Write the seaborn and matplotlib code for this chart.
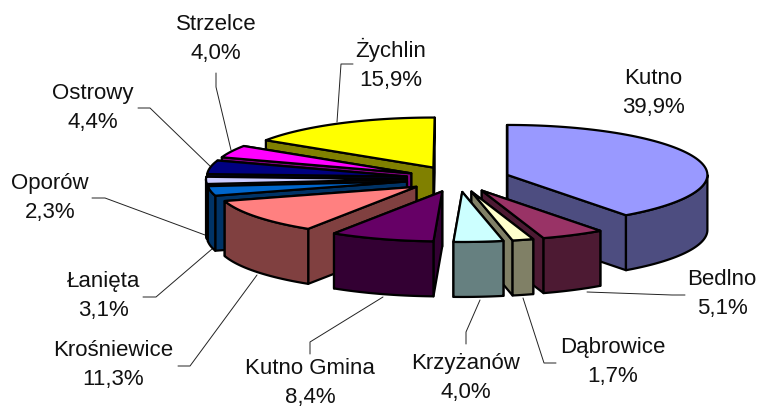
import numpy as np
import pandas as pd
import seaborn as sns
import matplotlib
matplotlib.use("Agg")
import matplotlib.pyplot as plt
from matplotlib.colors import to_rgb

# Shares of each gmina, clockwise from 12 o'clock
names = ["Kutno", "Bedlno", "Dąbrowice", "Krzyżanów", "Kutno Gmina", "Krośniewice",
         "Łanięta", "Oporów", "Ostrowy", "Strzelce", "Żychlin"]
shares = [39.9, 5.1, 1.7, 4.0, 8.4, 11.3, 3.1, 2.3, 4.4, 4.0, 15.9]
colors = ["#9999FF", "#993366", "#FFFFCC", "#CCFFFF", "#660066", "#FF8080",
          "#0066CC", "#CCCCFF", "#000080", "#FF00FF", "#FFFF00"]

# label centres and leader lines, in picture pixels
label_x = [653, 722, 613, 466, 310, 113, 103, 50, 93, 216, 391]
label_y = [93, 294, 362, 378, 383, 365, 296, 198, 108, 39, 64]
leaders = [None,
           [(587, 292), (672, 295), (685, 295)],
           [(523, 298), (544, 363), (556, 363)],
           [(480, 300), (466, 332), (466, 344)],
           [(383, 297), (310, 342), (310, 354)],
           [(257, 275), (190, 366), (178, 366)],
           [(212, 249), (156, 297), (143, 297)],
           [(205, 235), (105, 198), (92, 198)],
           [(211, 167), (150, 108), (138, 108)],
           [(231, 150), (216, 87), (216, 73)],
           [(337, 122), (341, 64), (353, 64)]]

cx, cy = 458, 179    # pie centre
rx, ry = 200, 50     # radii of the top ellipse
depth = 55           # height of the slices
explode = 52         # shift along the bisector

df = pd.DataFrame({"name": names, "share": shares, "color": colors})
df["start"] = df["share"].cumsum().shift(fill_value=0) * 3.6
df["end"] = df["share"].cumsum() * 3.6
df["mid"] = (df["start"] + df["end"]) / 2
df["dx"] = np.sin(np.radians(df["mid"])) * explode
df["dy"] = -np.cos(np.radians(df["mid"])) * explode * ry / rx

sns.set_theme(style="white")
plt.rcParams["font.family"] = ["Liberation Sans", "DejaVu Sans"]

fig, ax = plt.subplots(figsize=(7.6, 4.09), dpi=100)
ax.set_position([0, 0, 1, 1])
ax.set_xlim(0, 760)
ax.set_ylim(409, 0)
ax.axis("off")


def arc(a0, a1, x0, y0):
    t = np.radians(np.linspace(a0, a1, 80))
    return x0 + rx * np.sin(t), y0 - ry * np.cos(t)


def face(xs, ys, color, z):
    ax.fill(xs, ys, facecolor=color, edgecolor="black", linewidth=1.6,
            joinstyle="round", zorder=z)


# back slices first, front slices over them
order = df.assign(depth_key=-np.cos(np.radians(df["mid"]))).sort_values("depth_key")
z = 2
for _, s in order.iterrows():
    x0, y0 = cx + s["dx"], cy + s["dy"]
    side = tuple(c * 0.5 for c in to_rgb(s["color"]))
    ax_arc = arc(s["start"], s["end"], x0, y0)

    # the two cut walls, the one further back first
    walls = []
    for ang in (s["start"], s["end"]):
        ex, ey = arc(ang, ang, x0, y0)
        walls.append((ey[0], ex[0]))
    for ey, ex in sorted(walls):
        face([x0, ex, ex, x0], [y0, ey, ey + depth, y0 + depth], side, z)
        z += 1

    # rim, only the part turned to the viewer
    a0, a1 = max(s["start"], 90), min(s["end"], 270)
    if a1 > a0:
        xa, ya = arc(a0, a1, x0, y0)
        face(np.r_[xa, xa[::-1]], np.r_[ya, ya[::-1] + depth], side, z)
        z += 1

    face(np.r_[x0, ax_arc[0]], np.r_[y0, ax_arc[1]], s["color"], z)
    z += 1

for name, share, lx, ly, line in zip(names, shares, label_x, label_y, leaders):
    txt = f"{name}\n{share:.1f}%".replace(".", ",")
    ax.text(lx, ly, txt, ha="center", va="center", fontsize=16, color="#111111",
            linespacing=1.5, zorder=100)
    if line:
        ax.plot(*zip(*line), color="#222222", linewidth=0.7, zorder=1)

fig.savefig("out.png", dpi=100, facecolor="white")
